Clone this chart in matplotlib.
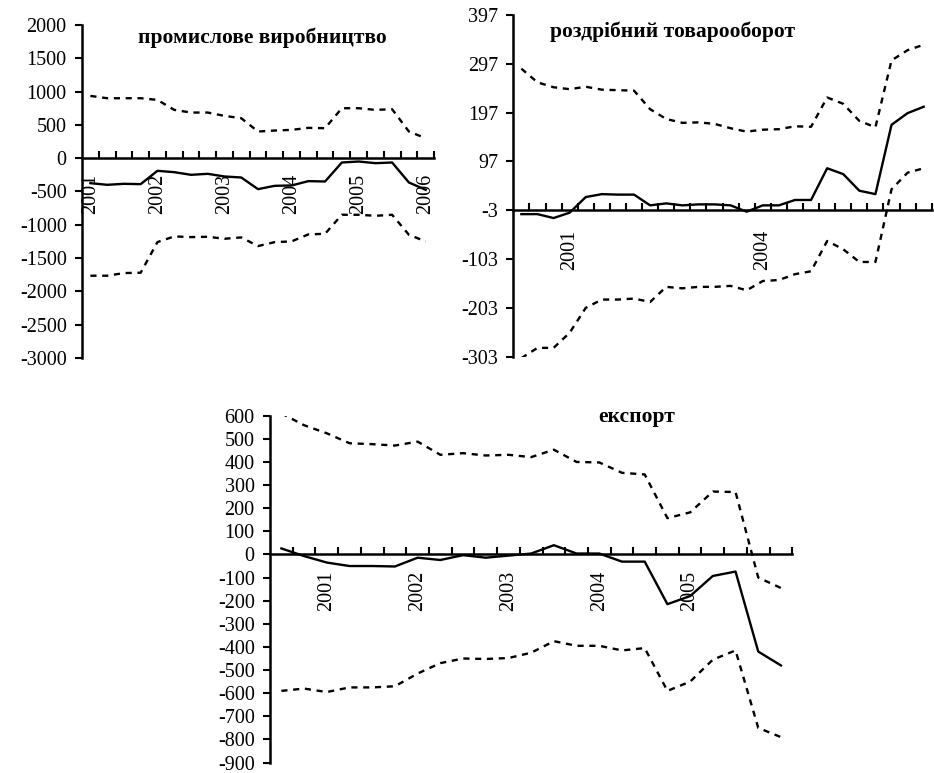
import matplotlib.pyplot as plt

plt.rcParams['font.family'] = ['Liberation Serif', 'DejaVu Serif']

# промислове виробництво (quarters, 2001 Q1 .. 2006 Q1)
prom_fact = [-375, -400, -385, -390, -190, -210, -250, -235, -275, -290, -465,
             -415, -410, -345, -350, -65, -50, -75, -65, -365, -475]
prom_upper = [935, 900, 900, 900, 875, 725, 685, 685, 635, 600, 400,
              415, 425, 455, 450, 750, 750, 725, 735, 400, 300]
prom_lower = [-1765, -1765, -1725, -1720, -1260, -1175, -1185, -1180, -1210, -1190, -1320,
              -1260, -1250, -1145, -1135, -850, -850, -865, -850, -1150, -1250]
prom_labels = {0: '2001', 4: '2002', 8: '2003', 12: '2004', 16: '2005', 20: '2006'}

# роздрібний товарооборот
rozdr_fact = [-11, -11, -19, -8, 24, 30, 29, 29, 7, 11, 7, 9, 9,
              7, -6, 7, 7, 18, 18, 83, 71, 37, 30, 172, 196, 209]
rozdr_upper = [287, 259, 249, 245, 250, 244, 243, 242, 204, 184, 176, 177, 174,
               165, 158, 162, 163, 169, 168, 228, 215, 180, 167, 304, 325, 336]
rozdr_lower = [-306, -285, -285, -254, -203, -186, -186, -184, -191, -160, -163, -160, -160,
               -158, -167, -148, -146, -134, -128, -66, -83, -109, -109, 40, 74, 83]
rozdr_labels = {3: '2001', 15: '2004'}

# експорт
eksp_fact = [26, -7, -35, -50, -50, -52, -14, -24, -3, -14, -5, 4,
             40, 4, 4, -31, -31, -215, -180, -93, -74, -420, -480]
eksp_upper = [610, 559, 524, 481, 477, 471, 488, 431, 438, 428, 431, 421,
              453, 400, 398, 353, 346, 157, 182, 272, 270, -100, -145]
eksp_lower = [-590, -580, -595, -575, -575, -570, -515, -470, -450, -452, -448, -425,
              -375, -395, -395, -415, -405, -590, -550, -455, -415, -750, -790]
eksp_labels = {2: '2001', 6: '2002', 10: '2003', 14: '2004', 18: '2005'}


def panel(ax, fact, upper, lower, labels, yticks, cross, label_pad):
    n = len(fact)
    x = list(range(n))
    ax.plot(x, upper, color='black', lw=1.7, ls=(0, (2.6, 2.4)))
    ax.plot(x, lower, color='black', lw=1.7, ls=(0, (2.6, 2.4)))
    ax.plot(x, fact, color='black', lw=1.7)
    ax.set_xlim(-0.5, n - 0.5)
    ax.set_ylim(yticks[0], yticks[-1])
    ax.set_yticks(yticks)
    ax.set_yticklabels([str(v) for v in yticks])
    for s in ['top', 'right']:
        ax.spines[s].set_visible(False)
    ax.spines['left'].set_linewidth(1.8)
    ax.spines['bottom'].set_linewidth(1.8)
    ax.spines['bottom'].set_position(('data', cross))
    # tick marks between categories, labels at category centres
    ax.set_xticks([k - 0.5 for k in range(1, n + 1)])
    ax.set_xticklabels([])
    ax.set_xticks(list(labels.keys()), minor=True)
    ax.set_xticklabels(list(labels.values()), minor=True, rotation=90)
    ax.tick_params(axis='x', which='major', direction='in', length=5, width=1.5)
    ax.tick_params(axis='x', which='minor', length=0, pad=label_pad, labelsize=14.5)
    ax.tick_params(axis='y', direction='out', length=5, width=1.5, pad=6, labelsize=14.5)
    ax.patch.set_alpha(0)


fig = plt.figure(figsize=(9.34, 7.73), dpi=100)

ax1 = fig.add_axes([0.0878, 0.5369, 0.3769, 0.4308])
panel(ax1, prom_fact, prom_upper, prom_lower, prom_labels,
      list(range(-3000, 2001, 500)), 0, 11)

ax2 = fig.add_axes([0.5496, 0.5386, 0.448, 0.442])
panel(ax2, rozdr_fact, rozdr_upper, rozdr_lower, rozdr_labels,
      list(range(-303, 398, 100)), -3, 14)

ax3 = fig.add_axes([0.2891, 0.0135, 0.5592, 0.4487])
panel(ax3, eksp_fact, eksp_upper, eksp_lower, eksp_labels,
      list(range(-900, 601, 100)), 0, 12)

fig.text(0.2805, 0.9508, 'промислове виробництво', ha='center', va='center',
         fontsize=15.5, fontweight='bold')
fig.text(0.7206, 0.9586, 'роздрібний товарооборот', ha='center', va='center',
         fontsize=15.5, fontweight='bold')
fig.text(0.682, 0.4605, 'експорт', ha='center', va='center',
         fontsize=15.5, fontweight='bold')

fig.savefig('out.png', dpi=100)
